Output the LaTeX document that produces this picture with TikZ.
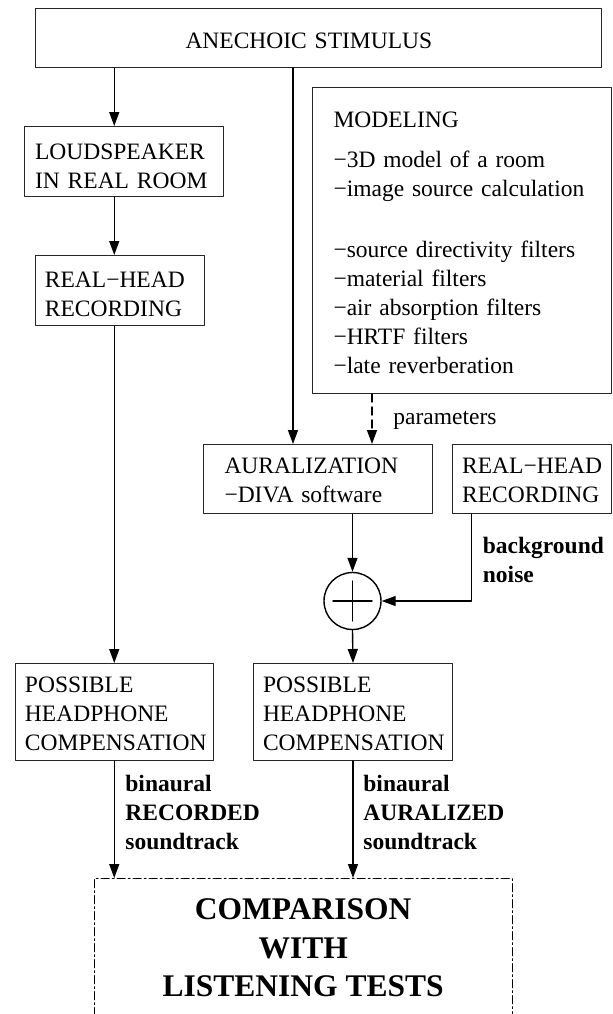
\documentclass[tikz,border=0pt]{standalone}
\usepackage{fontspec}
\setmainfont{Liberation Serif}
\usetikzlibrary{arrows.meta}
\newcommand{\stdsize}{\fontsize{11.75}{14.5}\selectfont}
\newcommand{\bigsize}{\fontsize{15.75}{19.25}\selectfont}
\newcommand{\lowered}[1]{\rule{0pt}{#1}}

\begin{document}
\begin{tikzpicture}[x=0.5pt,y=-0.5pt,line cap=round,line join=round,
    box/.style={draw=black!85,line width=0.5pt,anchor=north west,align=left,font=\stdsize,inner ysep=0pt},
    flow/.style={-{Triangle[length=7pt,width=5pt]},line width=0.7pt},
    lbl/.style={anchor=west,align=left,font=\stdsize\bfseries,inner sep=0pt}]
  \useasboundingbox (0,0) rectangle (613,1014);
  \coordinate (xsrc) at (293,0);
  \coordinate (xpar) at (372,0);
  \coordinate (xnoise) at (471.5,0);

  \node[box,text width=133pt,inner xsep=75pt,minimum height=29.5pt] (stim) at (35,8) {\lowered{10.8pt}ANECHOIC STIMULUS};
  \node[box,text width=88.9pt,inner xsep=5.3pt,minimum height=35pt] (spk) at (24,126) {\lowered{12.8pt}LOUDSPEAKER\\IN REAL ROOM};
  \node[box,text width=75.1pt,inner xsep=4.7pt,minimum height=35pt] (rec) at (35,255) {\lowered{11.2pt}REAL−HEAD\\RECORDING};
  \node[box,text width=128.5pt,inner xsep=10.5pt,minimum height=153pt] (model) at (312,87)
    {\lowered{10.3pt}MODELING\\[5.3pt]
     −3D model of a room\\
     −image source calculation\\[16pt]
     −source directivity filters\\
     −material filters\\
     −air absorption filters\\
     −HRTF filters\\
     −late reverberation};
  \node[box,text width=93.5pt,inner xsep=10.5pt,minimum height=34.5pt] (aur) at (203,444) {\lowered{8.8pt}AURALIZATION\\−DIVA software};
  \node[box,text width=69.8pt,inner xsep=4.85pt,minimum height=34.5pt] (rec2) at (452,444) {\lowered{8.8pt}REAL−HEAD\\RECORDING};
  \node[draw,circle,line width=0.7pt,minimum size=28.5pt,inner sep=0pt] (sum) at (352.5,601) {};
  \draw[line width=0.7pt] (sum.center) +(-19.5,0) -- +(19.5,0) (sum.center) +(0,-20) -- +(0,20);
  \node[box,text width=89.25pt,inner xsep=5pt,minimum height=48.5pt] (comp) at (14.5,663) {\lowered{9.3pt}POSSIBLE\\HEADPHONE\\COMPENSATION};
  \node[box,text width=90pt,inner xsep=4.75pt,minimum height=48.5pt] (comp2) at (253,663) {\lowered{9.3pt}POSSIBLE\\HEADPHONE\\COMPENSATION};
  \node[draw,line width=0.65pt,anchor=north west,align=center,font=\bigsize\bfseries,
    minimum width=209pt,minimum height=69.5pt,dash pattern=on 4pt off 1.6pt on 0.8pt off 1.6pt] (cmp) at (93.5,878)
    {COMPARISON\\WITH\\LISTENING TESTS};

  \draw[flow] (stim.south -| comp.north) -- (spk.north -| comp.north);
  \draw[flow] (spk.south -| comp.north) -- (rec.north -| comp.north);
  \draw[flow] (rec.south -| comp.north) -- (comp.north);
  \draw[flow] (stim.south -| xsrc) -- (aur.north -| xsrc);
  \draw[flow,dash pattern=on 4pt off 2.5pt] (model.south -| xpar) -- (aur.north -| xpar);
  \node[anchor=base west,font=\stdsize,inner sep=0pt] (par) at (393,424) {parameters};
  \draw[flow] (aur.south -| sum) -- (sum.north);
  \draw[flow] (rec2.south -| xnoise) |- (sum.east);
  \draw[flow] (sum.south) -- (comp2.north);
  \draw[flow] (comp.south) -- (cmp.north -| comp.south);
  \draw[flow] (comp2.south) -- (cmp.north -| comp2.south);

  \node[lbl] (noise) at (482.5,560) {background\\noise};
  \node[lbl] (rectrack) at (125,812) {binaural\\RECORDED\\soundtrack};
  \node[lbl] (aurtrack) at (363,812) {binaural\\AURALIZED\\soundtrack};
\end{tikzpicture}
\end{document}
